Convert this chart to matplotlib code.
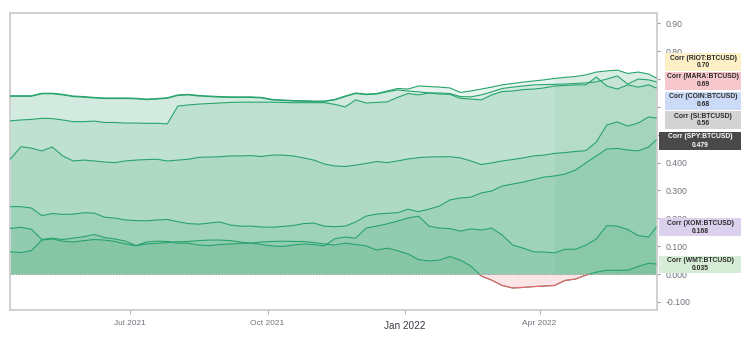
import matplotlib
matplotlib.use('Agg')
import matplotlib.pyplot as plt
import matplotlib.dates as mdates
import numpy as np
import pandas as pd
from matplotlib.patches import Rectangle

# ---------------- data ----------------
dates = list(pd.date_range('2021-04-12', periods=62, freq='7D')) + [pd.Timestamp('2022-06-18')]

riot = [0.640, 0.640, 0.640, 0.649, 0.649, 0.645, 0.639, 0.637, 0.634, 0.632,
        0.632, 0.632, 0.631, 0.628, 0.630, 0.633, 0.643, 0.645, 0.641, 0.639,
        0.637, 0.636, 0.636, 0.636, 0.634, 0.627, 0.625, 0.623, 0.622, 0.621,
        0.621, 0.627, 0.639, 0.650, 0.646, 0.648, 0.657, 0.666, 0.664, 0.675,
        0.673, 0.671, 0.668, 0.652, 0.657, 0.664, 0.671, 0.679, 0.684, 0.689,
        0.693, 0.697, 0.702, 0.706, 0.709, 0.715, 0.725, 0.729, 0.732, 0.720,
        0.725, 0.718, 0.704]
mara = [0.638, 0.638, 0.638, 0.647, 0.647, 0.643, 0.637, 0.635, 0.632, 0.630,
        0.630, 0.630, 0.629, 0.626, 0.628, 0.631, 0.641, 0.643, 0.639, 0.637,
        0.635, 0.634, 0.634, 0.634, 0.632, 0.625, 0.623, 0.621, 0.620, 0.619,
        0.619, 0.625, 0.637, 0.648, 0.644, 0.646, 0.654, 0.661, 0.657, 0.654,
        0.650, 0.650, 0.648, 0.637, 0.636, 0.643, 0.654, 0.666, 0.671, 0.675,
        0.679, 0.680, 0.681, 0.682, 0.684, 0.686, 0.690, 0.700, 0.711, 0.682,
        0.700, 0.697, 0.690]
coin = [0.550, 0.553, 0.555, 0.559, 0.558, 0.553, 0.547, 0.547, 0.549, 0.544,
        0.544, 0.542, 0.542, 0.541, 0.541, 0.539, 0.603, 0.607, 0.610, 0.612,
        0.614, 0.616, 0.617, 0.617, 0.617, 0.617, 0.616, 0.615, 0.615, 0.615,
        0.615, 0.609, 0.600, 0.625, 0.614, 0.616, 0.618, 0.634, 0.648, 0.643,
        0.650, 0.646, 0.645, 0.631, 0.628, 0.625, 0.643, 0.655, 0.657, 0.662,
        0.664, 0.668, 0.675, 0.677, 0.679, 0.679, 0.707, 0.675, 0.664, 0.679,
        0.671, 0.679, 0.668]
si = [0.413, 0.457, 0.452, 0.442, 0.456, 0.424, 0.406, 0.409, 0.406, 0.402,
      0.400, 0.406, 0.409, 0.411, 0.412, 0.406, 0.409, 0.412, 0.419, 0.420,
      0.421, 0.424, 0.424, 0.425, 0.422, 0.427, 0.427, 0.424, 0.417, 0.409,
      0.395, 0.388, 0.386, 0.391, 0.397, 0.404, 0.400, 0.406, 0.413, 0.418,
      0.420, 0.421, 0.421, 0.417, 0.406, 0.393, 0.399, 0.406, 0.411, 0.417,
      0.424, 0.427, 0.433, 0.436, 0.440, 0.443, 0.474, 0.535, 0.546, 0.531,
      0.542, 0.564, 0.560]
spy = [0.242, 0.242, 0.237, 0.210, 0.217, 0.214, 0.215, 0.220, 0.219, 0.204,
       0.201, 0.194, 0.192, 0.191, 0.194, 0.196, 0.188, 0.181, 0.179, 0.183,
       0.187, 0.176, 0.172, 0.172, 0.169, 0.168, 0.171, 0.174, 0.181, 0.183,
       0.172, 0.170, 0.172, 0.187, 0.208, 0.215, 0.218, 0.220, 0.233, 0.224,
       0.233, 0.244, 0.266, 0.273, 0.276, 0.291, 0.298, 0.316, 0.323, 0.330,
       0.339, 0.348, 0.352, 0.359, 0.373, 0.399, 0.424, 0.449, 0.451, 0.445,
       0.442, 0.456, 0.481]
xom = [0.164, 0.168, 0.161, 0.124, 0.129, 0.124, 0.129, 0.134, 0.142, 0.131,
       0.126, 0.118, 0.102, 0.108, 0.110, 0.113, 0.116, 0.117, 0.120, 0.122,
       0.122, 0.120, 0.115, 0.111, 0.106, 0.101, 0.099, 0.104, 0.108, 0.106,
       0.101, 0.127, 0.133, 0.129, 0.165, 0.172, 0.180, 0.190, 0.201, 0.208,
       0.172, 0.165, 0.163, 0.154, 0.162, 0.158, 0.165, 0.140, 0.104, 0.093,
       0.080, 0.079, 0.076, 0.089, 0.089, 0.104, 0.126, 0.174, 0.172, 0.160,
       0.138, 0.133, 0.168]
wmt = [0.080, 0.077, 0.084, 0.122, 0.126, 0.118, 0.115, 0.120, 0.124, 0.122,
       0.117, 0.108, 0.102, 0.115, 0.118, 0.117, 0.111, 0.111, 0.104, 0.102,
       0.106, 0.108, 0.110, 0.111, 0.115, 0.117, 0.118, 0.117, 0.117, 0.113,
       0.108, 0.104, 0.111, 0.106, 0.101, 0.086, 0.093, 0.084, 0.072, 0.052,
       0.047, 0.050, 0.063, 0.050, 0.029, -0.007, -0.022, -0.041, -0.050, -0.048,
       -0.045, -0.043, -0.041, -0.023, -0.018, -0.004, 0.007, 0.014, 0.013, 0.014,
       0.027, 0.039, 0.036]

series_labels = ['Corr (RIOT:BTCUSD)', 'Corr (MARA:BTCUSD)', 'Corr (COIN:BTCUSD)',
                 'Corr (SI:BTCUSD)', 'Corr (SPY:BTCUSD)', 'Corr (XOM:BTCUSD)',
                 'Corr (WMT:BTCUSD)']
last_values = ['0.70', '0.69', '0.68', '0.56', '0.479', '0.168', '0.035']

# 0.70 and 0.500 sit fully under the value boxes in the reference
ytick_values = [-0.1, 0.0, 0.1, 0.2, 0.3, 0.4, 0.5, 0.6, 0.7, 0.8, 0.9]
ytick_labels = ['-0.100', '0.000', '0.100', '0.200', '0.300', '0.400', '',
                '0.60', '', '0.80', '0.90']
xtick_dates = ['2021-07-01', '2021-10-01', '2022-01-01', '2022-04-01']
xtick_labels = ['Jul 2021', 'Oct 2021', 'Jan 2022', 'Apr 2022']

# ---------------- styles ----------------
W, H = 755, 337
LINE = '#27a36c'
FILL = '#2a9d66'
RED = '#f0616b'
box_styles = [  # (left px, top px, bottom px, bg, text color)
    (665, 53, 70.5, '#fdf0c6', '#2b2b2b'),
    (665, 71.5, 89.5, '#f6c8cd', '#2b2b2b'),
    (665, 91.5, 109.5, '#cbdaf6', '#2b2b2b'),
    (665, 111, 128.5, '#d3d3d3', '#2b2b2b'),
    (659, 131.5, 150, '#494949', '#ffffff'),
    (659, 218, 236, '#dcd1ec', '#2b2b2b'),
    (659, 255.5, 273, '#d6ecd6', '#2b2b2b'),
]

plt.rcParams['font.family'] = ['Liberation Sans', 'DejaVu Sans']

fig = plt.figure(figsize=(W / 100, H / 100), dpi=100)
ax = fig.add_axes([10 / W, 1 - 310 / H, (657 - 10) / W, (310 - 13) / H])

x = mdates.date2num(dates)
all_series = [riot, mara, coin, si, spy, xom, wmt]

for vals in all_series:
    v = np.array(vals)
    ax.fill_between(x, 0, v, where=v >= 0, interpolate=True, color=FILL, alpha=0.11, lw=0)
    ax.fill_between(x, 0, v, where=v <= 0, interpolate=True, color=RED, alpha=0.16, lw=0)

# slightly darker band over the most recent period
env = np.max(np.array(all_series), axis=0)
band = x >= mdates.date2num(pd.Timestamp('2022-04-11'))
ax.fill_between(x[band], 0, env[band], color=FILL, alpha=0.07, lw=0)

ymin, ymax = -0.129, 0.937
xmin = mdates.date2num(pd.Timestamp('2021-04-11 17:00'))
xmax = mdates.date2num(pd.Timestamp('2022-06-18 14:00'))

for vals in all_series:
    v = np.array(vals)
    ax.plot(x, v, color=LINE, lw=0.8, solid_joinstyle='round', zorder=3)
    red_line, = ax.plot(x, v, color=RED, lw=0.8, zorder=4)
    clip = Rectangle((xmin, ymin), xmax - xmin, -ymin, transform=ax.transData)
    red_line.set_clip_path(clip)

ax.axhline(0, color='#9a9a9a', lw=0.8, ls=(0, (1, 1.5)), zorder=5)

ax.set_xlim(xmin, xmax)
ax.set_ylim(ymin, ymax)

for s in ax.spines.values():
    s.set_color('#cdcdcd')
    s.set_linewidth(1.3)

ax.yaxis.tick_right()
ax.set_yticks(ytick_values)
ax.set_yticklabels(ytick_labels)
ax.tick_params(axis='y', length=2.5, width=0.8, color='#9a9a9a', labelsize=6.3,
               labelcolor='#70737c', pad=4)

ax.set_xticks(mdates.date2num(pd.to_datetime(xtick_dates)))
ax.set_xticklabels(xtick_labels)
ax.tick_params(axis='x', length=3, width=0.8, color='#b0b0b0', labelsize=6.0,
               labelcolor='#70737c', pad=4)
for lab in ax.get_xticklabels():
    if lab.get_text() == 'Jan 2022':
        lab.set_fontsize(7.2)
        lab.set_color('#3a3d45')
        lab.set_y(-0.004)

# value boxes on the right
right_px = 741
for (lx, top, bot, bg, tc), name, val in zip(box_styles, series_labels, last_values):
    rect = Rectangle((lx / W, 1 - bot / H), (right_px - lx) / W, (bot - top) / H,
                     transform=fig.transFigure, facecolor=bg, edgecolor='none', zorder=10)
    fig.add_artist(rect)
    cx = (lx + right_px) / 2 / W
    fig.text(cx, 1 - (top + (bot - top) * 0.29) / H, name, ha='center', va='center',
             fontsize=4.9, fontweight='bold', color=tc, zorder=11)
    fig.text(cx, 1 - (top + (bot - top) * 0.74) / H, val, ha='center', va='center',
             fontsize=4.9, fontweight='bold', color=tc, zorder=11)

fig.savefig('out.png', dpi=100)
